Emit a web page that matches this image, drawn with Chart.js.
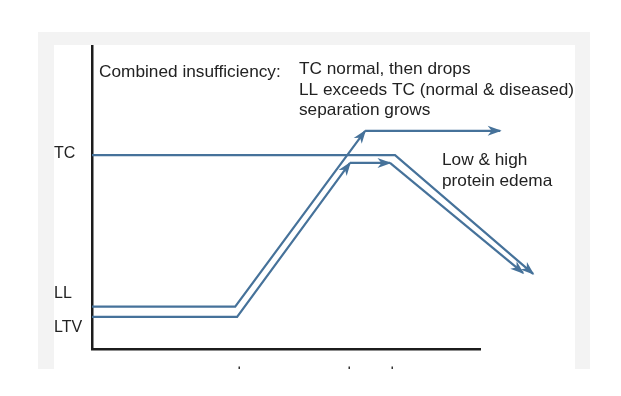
<!DOCTYPE html>
<html><head><meta charset="utf-8">
<script src="https://cdn.jsdelivr.net/npm/chart.js@4/dist/chart.umd.min.js"></script>
<style>
html,body{margin:0;padding:0;background:#fff;}
#wrap{position:relative;width:621px;height:396px;overflow:hidden;}
#gray{position:absolute;left:38px;top:32px;width:552px;height:337px;background:#f3f3f3;}
#inner{position:absolute;left:54px;top:45px;width:521px;height:324px;background:#fff;}
canvas{position:absolute;left:0;top:0;}
</style></head><body>
<div id="wrap"><div id="gray"></div><div id="inner"></div><canvas id="c" width="621" height="396"></canvas></div>
<script>
// Y-axis labels
const yTickValues = [64.6, 18.3, 7.0];
const yTickLabels = ['TC', 'LL', 'LTV'];
// Cut-off x tick marks along the bottom edge
const xTickMarks = [37.9, 66.2, 77.3];

// Series (x = time, y = level), each path ends with an arrowhead
const llRiseX = [0, 36.9, 70.4];
const llRiseY = [14.0, 14.0, 72.0];
const llPlateauX = [70.4, 105.2];
const llPlateauY = [72.0, 72.0];
const ltvRiseX = [0, 37.4, 66.5];
const ltvRiseY = [10.6, 10.6, 61.4];
const ltvPlateauX = [66.5, 76.8];
const ltvPlateauY = [61.4, 61.4];
const ltvFallX = [76.8, 111.1];
const ltvFallY = [61.4, 25.1];
const tcX = [0, 78.1, 113.7];
const tcY = [64.0, 64.0, 24.8];

// Annotation texts
const headerLeft = 'Combined insufficiency:';
const headerLines = ['TC normal, then drops', 'LL exceeds TC (normal & diseased)', 'separation grows'];
const edemaLines = ['Low & high', 'protein edema'];

const LINE = '#46729a';
const FONT = '"Liberation Sans", Arial, sans-serif';

function pts(xs, ys) { return xs.map((x, i) => ({ x: x, y: ys[i] })); }
function ds(label, xs, ys) {
  return { label, data: pts(xs, ys), borderColor: LINE, backgroundColor: LINE,
    borderWidth: 2.2, pointRadius: 0, tension: 0, clip: false, fill: false };
}

const arrowPlugin = {
  id: 'arrows',
  afterDatasetsDraw(chart) {
    const ctx = chart.ctx;
    chart.data.datasets.forEach((d, i) => {
      const p = chart.getDatasetMeta(i).data;
      const a = p[p.length - 2], b = p[p.length - 1];
      const ang = Math.atan2(b.y - a.y, b.x - a.x);
      ctx.save();
      ctx.translate(b.x, b.y); ctx.rotate(ang);
      ctx.beginPath();
      ctx.moveTo(1.5, 0); ctx.lineTo(-12.5, -5); ctx.lineTo(-8.5, 0); ctx.lineTo(-12.5, 5);
      ctx.closePath();
      ctx.fillStyle = d.borderColor; ctx.fill();
      ctx.restore();
    });
  }
};

const marksPlugin = {
  id: 'marks',
  afterDraw(chart) {
    const ctx = chart.ctx, xs = chart.scales.x;
    ctx.save();
    ctx.fillStyle = '#333';
    xTickMarks.forEach(v => { const px = Math.round(xs.getPixelForValue(v)); ctx.fillRect(px - 0.5, 366.5, 1.5, 2.5); });
    ctx.restore();
  }
};

const textPlugin = {
  id: 'texts',
  afterDraw(chart) {
    const ctx = chart.ctx;
    ctx.save();
    ctx.fillStyle = '#222';
    ctx.font = '16.5px ' + FONT;
    ctx.textBaseline = 'alphabetic';
    const put = (t, x, y) => { ctx.save(); ctx.translate(x, y); ctx.scale(1.045, 1); ctx.fillText(t, 0, 0); ctx.restore(); };
    put(headerLeft, 99, 76.5);
    headerLines.forEach((t, i) => put(t, 299, 73.8 + i * 20.8));
    edemaLines.forEach((t, i) => put(t, 442, 165.3 + i * 20.8));
    ctx.restore();
  }
};

new Chart(document.getElementById('c'), {
  type: 'line',
  data: {
    datasets: [
      ds('TC', tcX, tcY),
      ds('LL rise', llRiseX, llRiseY),
      ds('LL plateau', llPlateauX, llPlateauY),
      ds('LTV rise', ltvRiseX, ltvRiseY),
      ds('LTV plateau', ltvPlateauX, ltvPlateauY),
      ds('LTV fall', ltvFallX, ltvFallY)
    ]
  },
  options: {
    responsive: false,
    animation: false,
    devicePixelRatio: 1,
    layout: { padding: { left: 54, top: 46, right: 141, bottom: 47 } },
    plugins: { legend: { display: false }, tooltip: { enabled: false } },
    scales: {
      x: {
        type: 'linear', min: 0, max: 100,
        grid: { display: false },
        ticks: { display: false },
        border: { display: true, color: '#1c1c1c', width: 2.5 },
        afterFit(s) { s.height = 0; }
      },
      y: {
        type: 'linear', min: 0, max: 100,
        grid: { display: false },
        border: { display: true, color: '#1c1c1c', width: 2.5 },
        afterBuildTicks(s) { s.ticks = yTickValues.map(v => ({ value: v })); },
        ticks: {
          crossAlign: 'far',
          color: '#222',
          font: { family: FONT, size: 16 },
          callback: (v, i) => yTickLabels[i]
        },
        afterFit(s) { s.width = 38; }
      }
    }
  },
  plugins: [arrowPlugin, marksPlugin, textPlugin]
});
</script>
</body></html>
